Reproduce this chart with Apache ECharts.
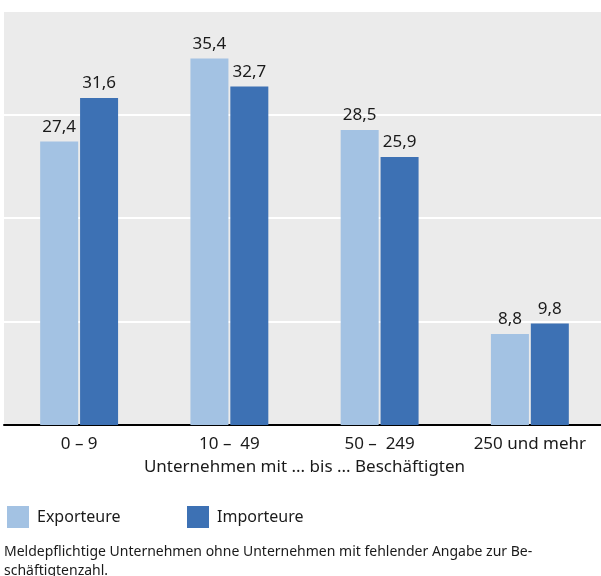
<!DOCTYPE html>
<html>
<head>
<meta charset="utf-8">
<script src="https://cdn.jsdelivr.net/npm/echarts@6/dist/echarts.min.js"></script>
<style>
  html, body { margin: 0; padding: 0; background: #fff; overflow: hidden; }
  #chart { width: 606px; height: 576px; }
</style>
</head>
<body>
<div id="chart"></div>
<script>
// Anteil der Unternehmen nach Beschäftigtengrößenklassen (in %)
const categories = ['0 – 9', '10 –  49', '50 –  249', '250 und mehr'];
const exporteure = [27.4, 35.4, 28.5, 8.8];
const importeure = [31.6, 32.7, 25.9, 9.8];
const seriesNames = ['Exporteure', 'Importeure'];
const axisTitle = 'Unternehmen mit ... bis ... Beschäftigten';
const footnote = 'Meldepflichtige Unternehmen ohne Unternehmen mit fehlender Angabe zur Be-\nschäftigtenzahl.';

const FONT = '"Noto Sans", sans-serif';
const TEXT = '#1a1a1a';
const fmt = p => String(p.value).replace('.', ',');

const chart = echarts.init(document.getElementById('chart'), null, { renderer: 'canvas' });

const barLabel = {
  show: true,
  position: 'top',
  distance: 6,
  formatter: fmt,
  color: TEXT,
  fontFamily: FONT,
  fontSize: 17
};

const legendBase = {
  top: 506,
  padding: 0,
  itemWidth: 22, itemHeight: 22,
  icon: 'rect',
  textStyle: { fontFamily: FONT, fontSize: 16, color: TEXT, padding: [0, 0, 0, 3] }
};

chart.setOption({
  animation: false,
  textStyle: { fontFamily: FONT, color: TEXT },
  grid: {
    left: 4, top: 11, width: 601, height: 414,
    show: true, backgroundColor: '#ebebeb', borderWidth: 0
  },
  legend: [
    Object.assign({ left: 7, data: [seriesNames[0]] }, legendBase),
    Object.assign({ left: 187, data: [seriesNames[1]] }, legendBase)
  ],
  xAxis: {
    type: 'category',
    data: categories,
    axisLine: { show: true, lineStyle: { color: '#000', width: 2 } },
    axisTick: { show: false },
    axisLabel: { color: TEXT, fontFamily: FONT, fontSize: 17, margin: 11 },
    name: axisTitle,
    nameLocation: 'middle',
    nameGap: 34,
    nameTextStyle: { color: TEXT, fontFamily: FONT, fontSize: 17 }
  },
  yAxis: {
    type: 'value',
    min: 0, max: 40, interval: 10,
    axisLine: { show: false },
    axisTick: { show: false },
    axisLabel: { show: false },
    splitLine: { show: true, lineStyle: { color: '#ffffff', width: 2 } }
  },
  graphic: [{
    type: 'text',
    left: 4, top: 543,
    style: { text: footnote, fill: TEXT, font: '14px ' + FONT, lineHeight: 19 }
  }],
  series: [
    {
      name: seriesNames[0], type: 'bar', data: exporteure,
      barWidth: 38, barGap: '5%',
      itemStyle: { color: '#a3c2e3' },
      label: barLabel
    },
    {
      name: seriesNames[1], type: 'bar', data: importeure,
      barWidth: 38, barGap: '5%',
      itemStyle: { color: '#3d71b4' },
      label: barLabel
    }
  ]
});
</script>
</body>
</html>
